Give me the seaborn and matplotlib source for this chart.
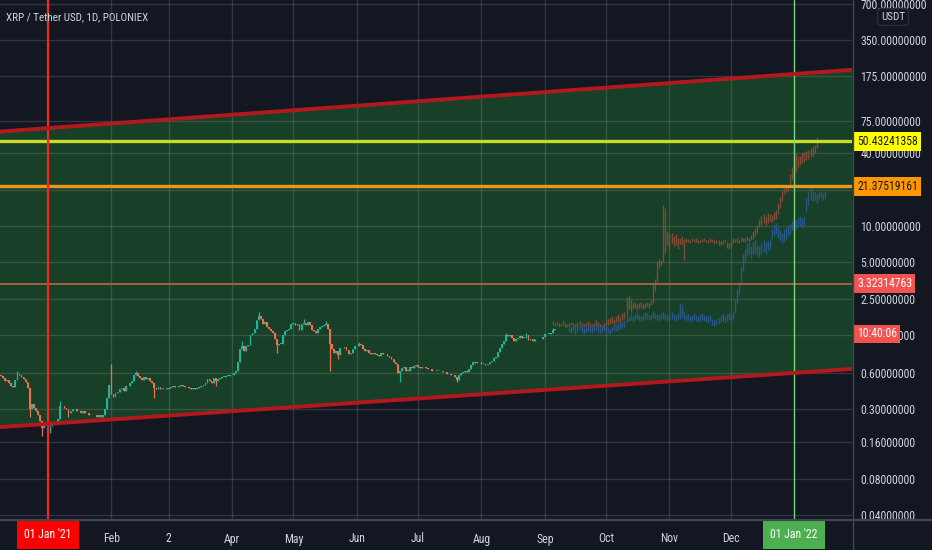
import numpy as np
import pandas as pd
import matplotlib
matplotlib.use("Agg")
import matplotlib.pyplot as plt
import matplotlib.dates as mdates
import matplotlib.transforms as mtransforms
from matplotlib import font_manager as fm
from matplotlib.lines import Line2D
import seaborn as sns

# ---------------- data ----------------
main_start = "2020-12-08"
first_open = 0.60
closes_dec20 = [0.58, 0.57, 0.55, 0.52, 0.53, 0.50, 0.47, 0.46, 0.53, 0.59, 0.58, 0.56,
                0.54, 0.51, 0.45, 0.30, 0.33, 0.31, 0.29, 0.27, 0.24, 0.21, 0.22, 0.22]
closes_jan21 = [0.22, 0.22, 0.23, 0.23, 0.23, 0.25, 0.32, 0.32, 0.31, 0.30, 0.28, 0.29,
                0.30, 0.30, 0.29, 0.29, 0.28, 0.29, 0.28, 0.28, 0.27, 0.27, 0.27, 0.27,
                0.26, 0.27, 0.26, 0.27, 0.30, 0.37, 0.48]
closes_feb21 = [0.40, 0.38, 0.41, 0.42, 0.44, 0.45, 0.43, 0.47, 0.47, 0.50, 0.52, 0.58,
                0.60, 0.57, 0.55, 0.53, 0.56, 0.54, 0.55, 0.52, 0.50, 0.45, 0.44, 0.46,
                0.44, 0.45, 0.45, 0.44]
closes_mar21 = [0.45, 0.46, 0.47, 0.46, 0.46, 0.47, 0.48, 0.47, 0.46, 0.46, 0.45, 0.44,
                0.45, 0.44, 0.45, 0.46, 0.47, 0.48, 0.50, 0.54, 0.52, 0.50, 0.55, 0.52,
                0.54, 0.55, 0.56, 0.56, 0.57, 0.57, 0.58]
closes_apr21 = [0.58, 0.60, 0.62, 0.75, 0.95, 1.00, 0.92, 1.00, 1.02, 1.25, 1.30, 1.40,
                1.65, 1.80, 1.70, 1.55, 1.60, 1.45, 1.40, 1.35, 1.30, 1.15, 1.02, 1.05,
                1.05, 1.25, 1.35, 1.38, 1.40, 1.55]
closes_may21 = [1.58, 1.52, 1.55, 1.38, 1.55, 1.58, 1.52, 1.60, 1.52, 1.38, 1.35, 1.30,
                1.40, 1.45, 1.48, 1.50, 1.55, 1.40, 1.05, 0.95, 0.88, 0.92, 0.85, 0.98,
                0.97, 0.99, 0.93, 0.86, 0.88, 0.95, 1.00]
closes_jun21 = [1.00, 1.04, 1.02, 0.95, 0.92, 0.93, 0.88, 0.86, 0.88, 0.86, 0.85, 0.84,
                0.88, 0.87, 0.86, 0.83, 0.82, 0.78, 0.74, 0.72, 0.60, 0.62, 0.66, 0.67,
                0.63, 0.63, 0.67, 0.66, 0.69, 0.70]
closes_jul21 = [0.67, 0.66, 0.67, 0.68, 0.66, 0.65, 0.65, 0.62, 0.63, 0.63, 0.63, 0.62,
                0.61, 0.61, 0.59, 0.59, 0.58, 0.58, 0.56, 0.53, 0.58, 0.60, 0.61, 0.62,
                0.61, 0.65, 0.70, 0.74, 0.73, 0.74, 0.75]
closes_aug21 = [0.72, 0.72, 0.70, 0.72, 0.74, 0.76, 0.80, 0.82, 0.90, 0.98, 1.05, 1.12,
                1.25, 1.22, 1.24, 1.18, 1.12, 1.15, 1.18, 1.22, 1.18, 1.18, 1.24, 1.14,
                1.16, 1.10, 1.16, 1.15, 1.16, 1.15, 1.19]
closes_sep21 = [1.26, 1.28, 1.28, 1.30, 1.38, 1.40]

wick_highs = {"2020-12-17": 0.63, "2021-01-07": 0.35, "2021-02-01": 0.72,
              "2021-02-13": 0.63, "2021-04-06": 1.10, "2021-04-14": 1.95,
              "2021-05-06": 1.70, "2021-05-17": 1.62, "2021-06-02": 1.08,
              "2021-08-13": 1.30, "2021-08-23": 1.30, "2021-09-05": 1.42}
wick_lows = {"2020-12-23": 0.26, "2020-12-29": 0.18, "2021-01-02": 0.19,
             "2021-01-11": 0.26, "2021-02-22": 0.37, "2021-03-24": 0.47,
             "2021-04-23": 0.88, "2021-05-19": 0.62, "2021-05-23": 0.78,
             "2021-06-22": 0.51, "2021-07-20": 0.51}

# projected "bars pattern" (low, high) per day
brown_start = "2021-09-05"
brown_bars = [
    (1.50, 1.62), (1.48, 1.58), (1.52, 1.60), (1.45, 1.56), (1.47, 1.55), (1.50, 1.64),
    (1.46, 1.58), (1.44, 1.55), (1.47, 1.56), (1.50, 1.60), (1.48, 1.57), (1.46, 1.54),
    (1.49, 1.59), (1.52, 1.63), (1.48, 1.58), (1.45, 1.55), (1.47, 1.57), (1.50, 1.62),
    (1.46, 1.56), (1.44, 1.54), (1.47, 1.58), (1.50, 1.66), (1.48, 1.60), (1.45, 1.55),
    (1.43, 1.52), (1.46, 1.58), (1.50, 1.62),
    (1.52, 1.68), (1.55, 1.72), (1.58, 1.80), (1.55, 1.70), (1.60, 1.78), (1.62, 1.85),
    (1.58, 1.76), (1.65, 1.90), (1.70, 1.92),
    (1.85, 2.55), (2.05, 2.60), (1.95, 2.45),
    (2.05, 2.30), (2.10, 2.35), (2.00, 2.25), (2.08, 2.28), (2.12, 2.32), (2.05, 2.25),
    (2.10, 2.30), (2.15, 2.35), (2.10, 2.28), (2.20, 2.45),
    (2.30, 3.30), (2.90, 3.60), (3.40, 5.00), (4.50, 5.30), (4.70, 5.20),
    (5.00, 15.0), (6.00, 14.0),
    (7.00, 9.00), (6.50, 8.50), (7.20, 8.80),
    (6.80, 8.20), (7.00, 8.50), (6.50, 8.00), (7.10, 7.90), (6.90, 8.30), (5.20, 7.80),
    (7.3, 7.9), (7.4, 7.8), (7.2, 7.7), (7.5, 7.9), (7.3, 7.8), (7.4, 7.9), (7.2, 7.6),
    (7.3, 7.7), (7.4, 7.8), (7.5, 8.0), (7.3, 7.7), (7.2, 7.6), (7.4, 7.9), (7.3, 7.8),
    (7.1, 7.6), (7.2, 7.7), (7.0, 7.6), (6.9, 7.5), (7.1, 7.6), (7.3, 7.8),
    (6.6, 7.4), (6.4, 7.2), (6.8, 7.5),
    (7.2, 7.9), (7.3, 7.8), (7.4, 8.0), (7.2, 7.7), (7.5, 8.1), (7.3, 7.9), (7.4, 8.0),
    (7.6, 8.2), (7.5, 8.0), (7.7, 8.4),
    (7.8, 9.0), (8.3, 9.6), (8.8, 10.2),
    (9.8, 11.5), (10.2, 12.0), (10.5, 12.5), (10.0, 11.8), (10.6, 12.8), (11.0, 12.6),
    (10.8, 12.4), (11.2, 13.0), (11.5, 13.5),
    (12.5, 15.5), (14.0, 17.5), (16.0, 19.5),
    (18.5, 20.5), (19.0, 21.5), (19.5, 21.0),
    (21.0, 27.0), (24.0, 31.0),
    (26.0, 45.0), (28.0, 40.0), (30.0, 38.0),
    (32.0, 38.0), (33.0, 40.0), (34.0, 41.0), (35.0, 42.0), (36.0, 43.0), (37.0, 44.0),
    (38.0, 46.0), (40.0, 47.0), (44.0, 55.0),
]
blue_start = "2021-09-13"
blue_bars = [
    (1.32, 1.50), (1.30, 1.45), (1.35, 1.52), (1.28, 1.44), (1.33, 1.50), (1.36, 1.54),
    (1.30, 1.47), (1.27, 1.42), (1.32, 1.48), (1.35, 1.52), (1.31, 1.46), (1.29, 1.44),
    (1.34, 1.50), (1.37, 1.55), (1.32, 1.48), (1.28, 1.43), (1.31, 1.47), (1.35, 1.52),
    (1.33, 1.49), (1.30, 1.45), (1.26, 1.40), (1.32, 1.48), (1.36, 1.53), (1.34, 1.50),
    (1.38, 1.56), (1.40, 1.58), (1.42, 1.60), (1.45, 1.62),
    (1.60, 1.85), (1.62, 1.80), (1.65, 1.88), (1.60, 1.78), (1.66, 1.85), (1.70, 1.92),
    (1.64, 1.82), (1.62, 1.80), (1.66, 1.86), (1.70, 1.95), (1.68, 1.88), (1.65, 1.84),
    (1.67, 1.87), (1.72, 1.98), (1.69, 1.90), (1.66, 1.85), (1.64, 1.82), (1.68, 1.88),
    (1.70, 1.94), (1.66, 1.86), (1.63, 1.82), (1.67, 1.88), (1.70, 1.92), (1.66, 1.85),
    (1.64, 1.83), (1.68, 1.90),
    (1.70, 2.30), (1.75, 2.20), (1.68, 1.95),
    (1.62, 1.82), (1.65, 1.85), (1.60, 1.80), (1.63, 1.83), (1.66, 1.88), (1.62, 1.84),
    (1.60, 1.80), (1.64, 1.86), (1.67, 1.90), (1.63, 1.84), (1.60, 1.80), (1.58, 1.78),
    (1.62, 1.82),
    (1.52, 1.70), (1.48, 1.65), (1.50, 1.68), (1.55, 1.72),
    (1.60, 1.82), (1.63, 1.88), (1.58, 1.80), (1.62, 1.85), (1.66, 1.90), (1.64, 1.86),
    (1.70, 1.95),
    (1.90, 2.50), (2.30, 3.00), (2.70, 3.40),
    (3.40, 4.60), (4.20, 5.80), (5.00, 6.50),
    (5.6, 7.2), (5.8, 7.5), (5.4, 6.8), (5.9, 7.3), (6.0, 7.6), (5.7, 7.0), (5.5, 6.8),
    (5.8, 7.2), (6.1, 7.7), (5.9, 7.3), (6.2, 7.5), (6.5, 7.8),
    (7.8, 9.5), (8.2, 10.2), (8.5, 10.5), (8.0, 9.8),
    (7.6, 9.2), (7.2, 8.8), (7.5, 9.4), (7.8, 9.6), (8.2, 10.0), (8.5, 10.3),
    (9.2, 11.0), (9.6, 11.5), (9.4, 11.2), (9.8, 11.8), (10.0, 12.0), (9.7, 11.6),
    (10.2, 12.2),
    (13.0, 17.0), (15.0, 19.5), (16.5, 21.0),
    (16.0, 19.5), (16.5, 19.0), (15.5, 18.5), (16.8, 19.2), (17.0, 19.5), (16.5, 18.8),
    (17.2, 19.4),
]

channel_dates = ["2020-12-08", "2022-01-30"]
channel_upper = [60.6, 198.0]
channel_lower = [0.214, 0.652]

level_yellow = 50.43241358
level_orange = 21.37519161
level_red = 3.32314763
countdown_price = 1.27
countdown_text = "10:40:06"

y_ticks = [0.04, 0.08, 0.16, 0.3, 0.6, 1.25, 2.5, 5, 10, 20, 40, 75, 175, 350, 700]
y_hidden = [20]  # label sits under the orange price box in the reference
month_dates = ["2021-02-01", "2021-03-01", "2021-04-01", "2021-05-01", "2021-06-01",
               "2021-07-01", "2021-08-01", "2021-09-01", "2021-10-01", "2021-11-01",
               "2021-12-01"]
month_labels = ["Feb", "2", "Apr", "May", "Jun", "Jul", "Aug", "Sep", "Oct", "Nov", "Dec"]
year_marks = ["2021-01-01", "2022-01-01"]
year_labels = ["01 Jan '21", "01 Jan '22"]
title_text = "XRP / Tether USD, 1D, POLONIEX"

# ---------------- style ----------------
BG = "#131722"
TXT = "#d1d4dc"
sns.set_theme(style="dark", rc={"axes.facecolor": BG, "figure.facecolor": BG,
                                "savefig.facecolor": BG})

# pick a narrow face if one is installed
fam, stretch = "Liberation Sans", "normal"
names = {f.name for f in fm.fontManager.ttflist}
for cand in ["Liberation Sans Narrow", "Arial Narrow", "Roboto Condensed",
             "Open Sans Condensed", "Noto Sans Condensed"]:
    if cand in names:
        fam = cand
        break
else:
    for f in fm.fontManager.ttflist:
        if f.name == "DejaVu Sans" and str(f.stretch) in ("condensed", "semi-condensed"):
            fam, stretch = "DejaVu Sans", "condensed"
            break
plt.rcParams["font.family"] = [fam, "DejaVu Sans"]
plt.rcParams["font.stretch"] = stretch

W, H = 932, 550
fig = plt.figure(figsize=(W / 100, H / 100), dpi=100)
renderer = fig.canvas.get_renderer()

def fit_size(text, target_px, ref=10.0):
    t = fig.text(0, 0, text, fontsize=ref)
    w = t.get_window_extent(renderer=renderer).width
    t.remove()
    return ref * target_px / w

FS = min(fit_size("700.00000000", 66), 9.5)
FS_T = min(fit_size(title_text, 142), 10.0)

ax = fig.add_axes([0, 30 / H, 852 / W, 520 / H])
ax.set_yscale("log")

d2n = lambda s: mdates.date2num(pd.Timestamp(s))

# channel
cx = [d2n(d) for d in channel_dates]
ax.fill_between(cx, channel_lower, channel_upper, color="#183f27", zorder=0.2, lw=0)
ch_df = pd.DataFrame({"x": cx * 2, "y": channel_upper + channel_lower,
                      "line": ["up", "up", "lo", "lo"]})
sns.lineplot(data=ch_df, x="x", y="y", units="line", estimator=None, color="#b3191c",
             lw=2.8, ax=ax, zorder=5, legend=False)

# main candles
closes = np.array(closes_dec20 + closes_jan21 + closes_feb21 + closes_mar21 + closes_apr21
                  + closes_may21 + closes_jun21 + closes_jul21 + closes_aug21 + closes_sep21)
dates = pd.date_range(main_start, periods=len(closes), freq="D")
opens = np.concatenate([[first_open], closes[:-1]])
highs = np.maximum(opens, closes)
lows = np.minimum(opens, closes)
for k, v in wick_highs.items():
    highs[dates.get_loc(pd.Timestamp(k))] = v
for k, v in wick_lows.items():
    lows[dates.get_loc(pd.Timestamp(k))] = v
xn = mdates.date2num(dates)
up = closes >= opens
UPC, DNC = "#26b296", "#ec6f4f"
cols = np.where(up, UPC, DNC)
ax.vlines(xn, lows, highs, colors=cols, lw=0.9, zorder=3)
body_lo = np.minimum(opens, closes)
body_h = np.maximum(np.abs(closes - opens), body_lo * 0.008)
ax.bar(xn, body_h, bottom=body_lo, width=0.85, color=cols, lw=0, zorder=3)

# projected bars
bx = mdates.date2num(pd.date_range(brown_start, periods=len(brown_bars), freq="D"))
ax.vlines(bx, [b[0] for b in brown_bars], [b[1] for b in brown_bars],
          colors="#8a4d38", lw=1.0, alpha=0.9, zorder=3)
blx = mdates.date2num(pd.date_range(blue_start, periods=len(blue_bars), freq="D"))
ax.vlines(blx, [b[0] for b in blue_bars], [b[1] for b in blue_bars],
          colors="#2b5a8e", lw=1.0, alpha=0.9, zorder=3)

# horizontal levels
ax.axhline(level_yellow, color="#c9dc2c", lw=2.4, zorder=4)
ax.axhline(level_orange, color="#e8961c", lw=2.4, zorder=4)
ax.axhline(level_red, color="#b0643c", lw=1.3, zorder=4)

# vertical year markers
ax.axvline(d2n(year_marks[0]), color="#f0281e", lw=1.6, zorder=4)
ax.axvline(d2n(year_marks[1]), color="#7bd47e", lw=1.0, zorder=4)

# limits
ax.set_xlim(d2n("2020-12-08 12:00"), d2n("2022-01-29 07:00"))
ax.set_ylim(0.0363, 750)

# grid & ticks
ax.set_axisbelow(True)
ax.grid(True, which="major", color="white", alpha=0.13, lw=1.0)
ax.yaxis.tick_right()
ax.set_yticks(y_ticks)
ax.set_yticklabels(["" if v in y_hidden else f"{v:.8f}" for v in y_ticks])
ax.yaxis.set_minor_locator(matplotlib.ticker.NullLocator())
ax.tick_params(axis="y", length=0, pad=6, labelcolor=TXT, labelsize=FS)
ax.set_xticks([d2n(d) for d in month_dates])
ax.set_xticklabels(month_labels)
ax.tick_params(axis="x", length=0, pad=9, labelcolor=TXT, labelsize=FS)
ax.set_xlabel("")
ax.set_ylabel("")
for s in ["top", "left", "bottom", "right"]:
    ax.spines[s].set_visible(False)

# axis frame lines extending across figure
fig.add_artist(Line2D([0, 1], [30 / H, 30 / H], color="#434651", lw=1.6,
                      transform=fig.transFigure))
fig.add_artist(Line2D([852.5 / W, 852.5 / W], [0, 1], color="#434651", lw=1.0,
                      transform=fig.transFigure))

# price labels on right axis
trans_y = mtransforms.blended_transform_factory(ax.transAxes, ax.transData)
def price_box(y, text, fc, tc):
    ax.text(1.0 + 5 / 852, y, text, transform=trans_y, ha="left", va="center",
            fontsize=FS, color=tc, clip_on=False, zorder=20,
            bbox=dict(boxstyle="square,pad=0.25", fc=fc, ec="none"))

price_box(level_yellow, f"{level_yellow:.8f}", "#ffff00", "#131722")
price_box(level_orange, f"{level_orange:.8f}", "#ff9800", "#131722")
price_box(level_red, f"{level_red:.8f}", "#f05350", "white")
price_box(countdown_price, countdown_text, "#f05350", "white")

# date labels on bottom axis
trans_x = mtransforms.blended_transform_factory(ax.transData, ax.transAxes)
for d, lab, fc in zip(year_marks, year_labels, ["#ff0000", "#4caf50"]):
    ax.text(d2n(d), -15 / 520, lab, transform=trans_x, ha="center", va="center",
            fontsize=FS, color="white", clip_on=False, zorder=20,
            bbox=dict(boxstyle="square,pad=0.6", fc=fc, ec="none"))

# title and currency label
fig.text(6 / W, 1 - 17 / H, title_text, ha="left", va="center", fontsize=FS_T, color=TXT)
fig.text(893 / W, 1 - 17 / H, "USDT", ha="center", va="center", fontsize=FS * 0.95,
         color=TXT, bbox=dict(boxstyle="round,pad=0.3", fc=BG, ec="#2a2e39"))

fig.savefig("out.png", dpi=100)
